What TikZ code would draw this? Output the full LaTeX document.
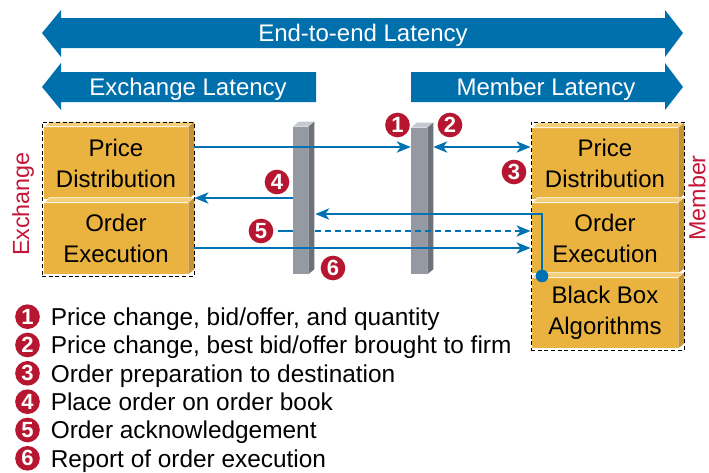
\documentclass[tikz,border=0pt]{standalone}
\usepackage{fontspec}
\setmainfont{Liberation Sans}
\usetikzlibrary{arrows.meta,calc,fit}
\definecolor{hdrblue}{RGB}{0,112,173}
\definecolor{lineblue}{RGB}{0,113,178}
\definecolor{numred}{RGB}{183,22,48}
\definecolor{labred}{RGB}{196,22,56}
\definecolor{boxfront}{RGB}{234,179,64}
\definecolor{boxside}{RGB}{201,146,48}
\definecolor{boxtop}{RGB}{244,206,120}
\definecolor{barfront}{RGB}{148,153,162}
\definecolor{barside}{RGB}{108,113,122}
\definecolor{bartop}{RGB}{198,202,208}
\begin{document}
\begin{tikzpicture}[x=0.75pt,y=-0.75pt,
  >={Stealth[length=10.5pt,width=8.5pt,inset=3pt]},
  txt/.style={font=\fontsize{18}{23.25}\selectfont},
  hdrtxt/.style={txt,text=white,inner sep=0pt,anchor=base},
  hdrarrow/.style={fill=hdrblue},
  block/.style={fill=boxfront,inner sep=0pt,align=center,txt,text=black},
  blocktop/.style={fill=boxtop,draw=white,line width=0.5pt},
  blockside/.style={fill=boxside},
  grp/.style={draw=black,line width=0.7pt,dash pattern=on 3pt off 2pt,inner sep=0pt},
  bar/.style={fill=barfront,inner sep=0pt},
  bartopf/.style={fill=bartop},
  barsidef/.style={fill=barside},
  num/.style={circle,fill=numred,text=white,inner sep=0pt,minimum size=18.5pt,
    font=\fontsize{16.5}{16.5}\bfseries\selectfont},
  legtxt/.style={font=\fontsize{18.3}{22}\selectfont,inner sep=0pt,anchor=base west},
  lab/.style={font=\fontsize{17.5}{20}\selectfont,text=labred,inner sep=0pt,rotate=90},
  conn/.style={draw=lineblue,line width=1.3pt},
  dotnode/.style={circle,fill=lineblue,inner sep=0pt,minimum size=9.5pt}
]
\useasboundingbox (0,0) rectangle (709,472);

% header banners
\fill[hdrarrow] (42,33) -- (61,10) -- (61,18) -- (665,18) -- (665,10) -- (683,33)
  -- (665,57) -- (665,48) -- (61,48) -- (61,57) -- cycle;
\fill[hdrarrow] (42,87) -- (61,63) -- (61,72) -- (316,72) -- (316,102) -- (61,102)
  -- (61,110) -- cycle;
\fill[hdrarrow] (411,72) -- (665,72) -- (665,63) -- (683,87) -- (665,110)
  -- (665,102) -- (411,102) -- cycle;
\node[hdrtxt] (tE2E) at (363,41.7) {End-to-end Latency};
\node[hdrtxt] (tExL) at (188,95.7) {Exchange Latency};
\node[hdrtxt] (tMeL) at (546,95.7) {Member Latency};

% exchange blocks
\node[block,minimum width=108pt,minimum height=54pt] (exPD) at (116,163) {Price\\Distribution};
\node[block,minimum width=108pt,minimum height=53.25pt] (exOE) at (116,238.5) {Order\\Execution};
% member blocks
\node[block,minimum width=109.5pt,minimum height=53.25pt] (mPD) at (605,163.5) {Price\\Distribution};
\node[block,minimum width=109.5pt,minimum height=52.5pt] (mOE) at (605,238) {Order\\Execution};
\node[block,minimum width=109.5pt,minimum height=52.5pt] (mBB) at (605,313) {Black Box\\Algorithms};
\foreach \b in {exPD,exOE,mPD,mOE,mBB}{
  \filldraw[blocktop] (\b.north west) -- ++(6,-5) -- ($(\b.north east)+(6,-5)$) -- (\b.north east) -- cycle;
  \fill[blockside] (\b.north east) -- ++(6,-5) -- ($(\b.south east)+(6,-5)$) -- (\b.south east) -- cycle;
}
\node[grp,fit={(42,122) (194,276)}] (exch) {};
\node[grp,fit={(531,122) (684,350)}] (mem) {};

% bars
\node[bar,minimum width=11.25pt,minimum height=110.25pt] (bar1) at (300.5,200.5) {};
\node[bar,minimum width=12pt,minimum height=109.5pt] (bar2) at (419,201) {};
\foreach \b in {bar1,bar2}{
  \fill[bartopf] (\b.north west) -- ++(6,-5) -- ($(\b.north east)+(6,-5)$) -- (\b.north east) -- cycle;
  \fill[barsidef] (\b.north east) -- ++(6,-5) -- ($(\b.south east)+(6,-5)$) -- (\b.south east) -- cycle;
}

% side labels
\node[lab] (labEx) at (23,204) {Exchange};
\node[lab] (labMe) at (697,198) {Member};

% number markers in the diagram
\node[num] (n1) at (397.5,125) {1};
\node[num] (n2) at (450,125) {2};
\node[num] (n3) at (514,172) {3};
\node[num] (n4) at (277,182) {4};
\node[num] (n5) at (261,231) {5};
\node[num] (n6) at (333,268) {6};

% row coordinates
\coordinate (r1) at (0,147);
\coordinate (r2) at (0,198);
\coordinate (r3) at (0,214);
\coordinate (r4) at (0,231);
\coordinate (r5) at (0,248);
\coordinate (b1e) at ($(bar1.east)+(7,0)$);
\coordinate (b2e) at ($(bar2.east)+(6,0)$);

% connectors
\draw[conn,->] (exch.east |- r1) -- (bar2.west |- r1);
\draw[conn,<->] (b2e |- r1) -- (mem.west |- r1);
\draw[conn,->] (bar1.west |- r2) -- (exch.east |- r2);
\node[dotnode] (dot) at (542,276) {};
\draw[conn,->] (dot.center) |- (b1e |- r3);
\draw[conn,shorten <=3pt] (n5.east) -- (bar1.west |- r4);
\draw[conn,->,dash pattern=on 4.5pt off 3pt] (b1e |- r4) -- (mem.west |- r4);
\draw[conn,->] (exch.east |- r5) -- (mem.west |- r5);

% legend
\node[num] (L1) at (27.5,316.7) {1};
\node[num] (L2) at (27.5,345) {2};
\node[num] (L3) at (27.5,373.3) {3};
\node[num] (L4) at (27.5,401.7) {4};
\node[num] (L5) at (27.5,430) {5};
\node[num] (L6) at (27.5,458.3) {6};
\node[legtxt] (T1) at (50.5,325.4) {Price change, bid/offer, and quantity};
\node[legtxt] (T2) at (50.5,353.7) {Price change, best bid/offer brought to firm};
\node[legtxt] (T3) at (50.5,382) {Order preparation to destination};
\node[legtxt] (T4) at (50.5,410.4) {Place order on order book};
\node[legtxt] (T5) at (50.5,438.7) {Order acknowledgement};
\node[legtxt] (T6) at (50.5,467) {Report of order execution};
\end{tikzpicture}
\end{document}
